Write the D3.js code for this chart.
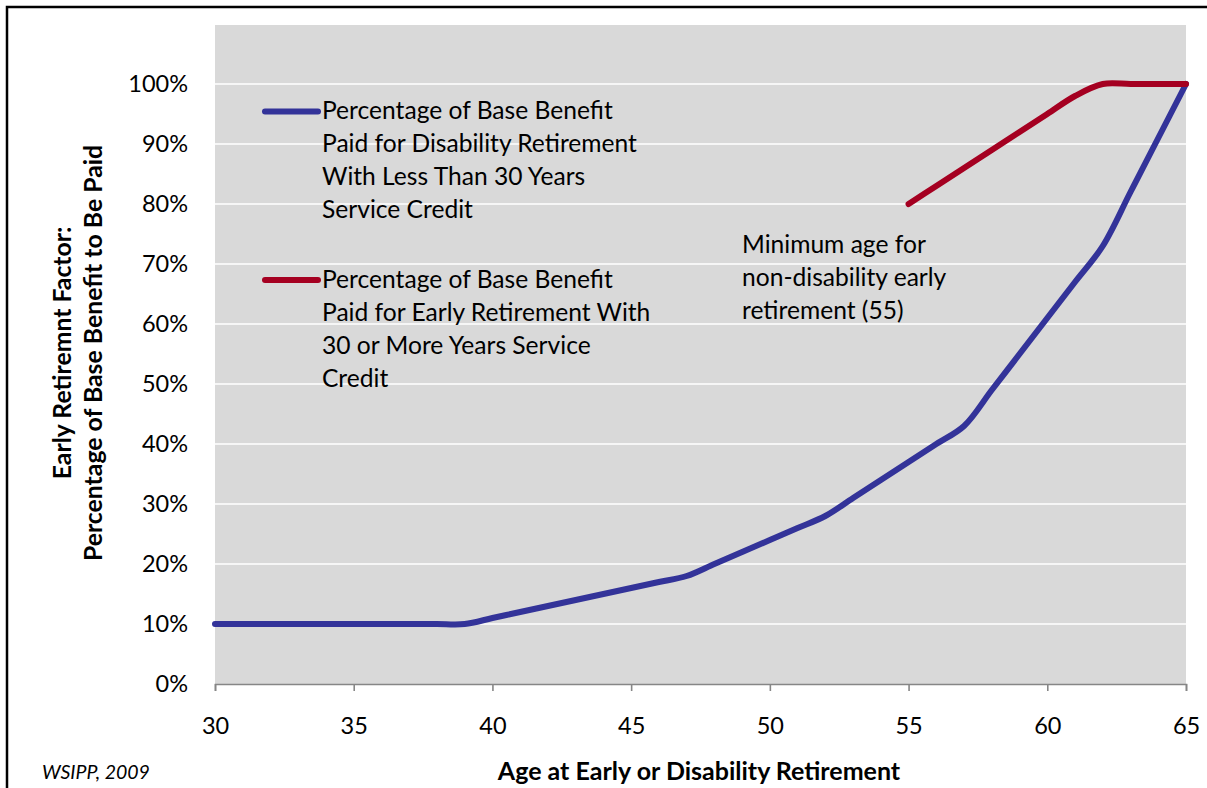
<!DOCTYPE html>
<html>
<head>
<meta charset="utf-8">
<script src="https://cdn.jsdelivr.net/npm/d3@7"></script>
<style>
  html, body { margin: 0; padding: 0; background: #fff; }
  svg { display: block; }
  text { font-family: "Lato", "Open Sans", sans-serif; fill: #000; }
</style>
</head>
<body>
<svg id="chart" width="1207" height="788"></svg>
<script>
// ---- data ----
const ages = [30,31,32,33,34,35,36,37,38,39,40,41,42,43,44,45,46,47,48,49,50,51,52,53,54,55,56,57,58,59,60,61,62,63,64,65];
const disabilityPct = [10,10,10,10,10,10,10,10,10,10,11,12,13,14,15,16,17,18,20,22,24,26,28,31,34,37,40,43,49,55,61,67,73,82,91,100];
const earlyAges = [55,56,57,58,59,60,61,62,63,64,65];
const earlyPct = [80,83,86,89,92,95,98,100,100,100,100];
const yTicks = [0,10,20,30,40,50,60,70,80,90,100];
const xTicks = [30,35,40,45,50,55,60,65];
const seriesNames = [
  ["Percentage of Base Benefit", "Paid for Disability Retirement", "With Less Than 30 Years", "Service Credit"],
  ["Percentage of Base Benefit", "Paid for Early Retirement With", "30 or More Years Service", "Credit"]
];
const annotation = ["Minimum age for", "non-disability early", "retirement (55)"];
const yTitle = ["Early Retiremnt Factor:", "Percentage of Base Benefit to Be Paid"];
const xTitle = "Age at Early or Disability Retirement";
const source = "WSIPP, 2009";
const colors = ["#333399", "#A50021"];

// ---- layout ----
const svg = d3.select("#chart");
const plot = {left: 215, right: 1186, top: 25, bottom: 684};
const x = d3.scaleLinear().domain([30, 65]).range([plot.left, plot.right]);
const y = d3.scaleLinear().domain([0, 110]).range([plot.bottom, plot.bottom - 660]);

// outer frame
svg.append("rect").attr("x", 7).attr("y", 7).attr("width", 1220).attr("height", 800)
  .attr("fill", "none").attr("stroke", "#000").attr("stroke-width", 2.5);

// plot background
svg.append("rect").attr("x", plot.left).attr("y", plot.top)
  .attr("width", plot.right - plot.left).attr("height", plot.bottom - plot.top)
  .attr("fill", "#D9D9D9");

// gridlines
svg.append("g").selectAll("line").data(yTicks.filter(d => d > 0)).join("line")
  .attr("x1", plot.left).attr("x2", plot.right)
  .attr("y1", d => y(d)).attr("y2", d => y(d))
  .attr("stroke", "#fff").attr("stroke-width", 1.6);

// y axis labels
const yAxis = d3.axisLeft(y).tickValues(yTicks).tickFormat(d => d + "%").tickSize(0).tickPadding(27);
const gy = svg.append("g").attr("transform", `translate(${plot.left},0)`).call(yAxis);
gy.select(".domain").remove();
gy.selectAll("text").style("font-size", "23.5px").style("font-family", "Lato");

// x axis
const xAxis = d3.axisBottom(x).tickValues(xTicks).tickSize(7).tickPadding(26);
const gx = svg.append("g").attr("transform", `translate(0,${plot.bottom})`).call(xAxis);
gx.select(".domain").attr("stroke", "#868686").attr("stroke-width", 1.6);
gx.selectAll(".tick line").attr("stroke", "#868686").attr("stroke-width", 1.6);
gx.selectAll("text").style("font-size", "23.5px").style("font-family", "Lato");

// lines
const line = d3.line().x(d => x(d[0])).y(d => y(d[1])).curve(d3.curveCatmullRom.alpha(0.5));
svg.append("path").datum(ages.map((a, i) => [a, disabilityPct[i]]))
  .attr("d", line).attr("fill", "none").attr("stroke", colors[0])
  .attr("stroke-width", 6).attr("stroke-linejoin", "round").attr("stroke-linecap", "round");
svg.append("path").datum(earlyAges.map((a, i) => [a, earlyPct[i]]))
  .attr("d", line).attr("fill", "none").attr("stroke", colors[1])
  .attr("stroke-width", 6).attr("stroke-linejoin", "round").attr("stroke-linecap", "round");

// legend
const legendTop = [111.5, 280];
seriesNames.forEach((lines, i) => {
  const g = svg.append("g");
  g.append("line").attr("x1", 265).attr("x2", 318).attr("y1", legendTop[i]).attr("y2", legendTop[i])
    .attr("stroke", colors[i]).attr("stroke-width", 6).attr("stroke-linecap", "round");
  lines.forEach((t, j) => {
    g.append("text").attr("x", 322).attr("y", legendTop[i] + 7.5 + j * 33)
      .style("font-size", "24.6px").text(t);
  });
});

// annotation
annotation.forEach((t, j) => {
  svg.append("text").attr("x", 742).attr("y", 253 + j * 33)
    .style("font-size", "24.6px").text(t);
});

// y title
yTitle.forEach((t, j) => {
  svg.append("text")
    .attr("transform", `translate(${71 + j * 31},353) rotate(-90)`)
    .attr("text-anchor", "middle").style("font-size", "24.8px").style("font-weight", "bold").text(t);
});

// x title
svg.append("text").attr("x", 699).attr("y", 780).attr("text-anchor", "middle")
  .style("font-size", "25px").style("font-weight", "bold").text(xTitle);

// source
svg.append("text").attr("x", 42).attr("y", 779)
  .style("font-size", "19.5px").style("font-style", "italic").text(source);
</script>
</body>
</html>
